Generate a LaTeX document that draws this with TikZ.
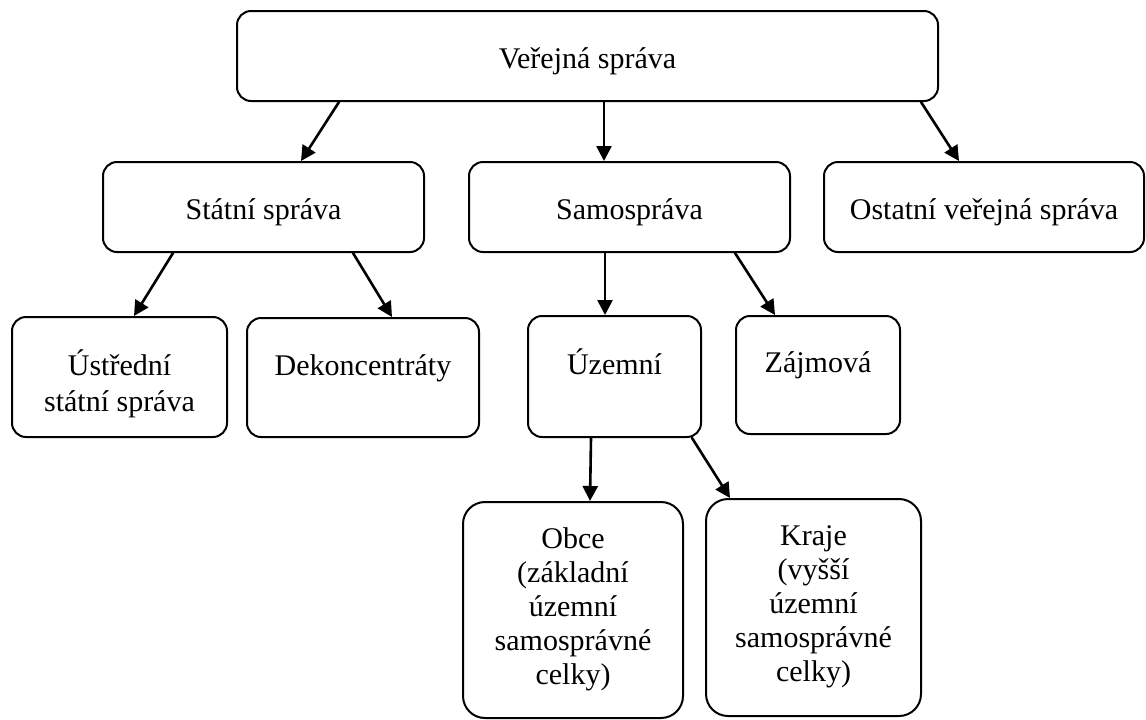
\documentclass[tikz,border=0pt]{standalone}
\usepackage{fontspec}
\setmainfont{Liberation Serif}
\usetikzlibrary{arrows.meta}

\begin{document}
\begin{tikzpicture}[x=0.5pt,y=-0.5pt,->,>={Triangle[length=7.5pt,width=7.5pt]},line cap=round,
                    line width=1.3pt,
                    every node/.style={font=\fontsize{15pt}{17.5pt}\selectfont},
                    box/.style={draw,line width=1pt,rounded corners=7pt,align=center,inner sep=0pt,
                                text height=12pt,text depth=0pt},
                    lowbox/.style={box,text depth=14.5pt},
                    tallbox/.style={box,rounded corners=11pt,font=\fontsize{15pt}{17pt}\selectfont,
                                    text height=74pt},
                ]
  \useasboundingbox (0,0) rectangle (1146,719);

  \node[box,minimum width=350.5pt,minimum height=45pt]      (vs)       at (587.5,56)  {Veřejná správa};
  \node[box,minimum width=160.5pt,minimum height=45pt]      (statni)   at (263.5,207) {Státní správa};
  \node[box,minimum width=160.5pt,minimum height=45pt]      (samo)     at (629.5,207) {Samospráva};
  \node[box,minimum width=160pt,minimum height=45pt]        (ostatni)  at (984,207)   {Ostatní veřejná správa};
  \node[box,text height=34pt,minimum width=107.5pt,minimum height=60pt] (ustredni) at (119.5,377) {Ústřední\\[0.5pt]státní správa};
  \node[lowbox,minimum width=116pt,minimum height=59.5pt]   (dekon)    at (363,377.5) {Dekoncentráty};
  \node[lowbox,minimum width=86.5pt,minimum height=60.5pt]  (uzemni)   at (614.5,376.5) {Územní};
  \node[lowbox,minimum width=82pt,minimum height=59pt]      (zajmova)  at (818,375)   {Zájmová};
  \node[tallbox,minimum width=110pt,minimum height=108pt]   (obce)     at (573,610)   {Obce\\(základní\\územní\\samosprávné\\celky)};
  \node[tallbox,minimum width=107.5pt,minimum height=108.5pt] (kraje)  at (813.5,607.5) {Kraje\\(vyšší\\územní\\samosprávné\\celky)};

  \path ([xshift=-124.25pt]vs.south)    edge ([xshift=18.75pt]statni.north)
        ([xshift=8.25pt]vs.south)       edge ([xshift=-12.75pt]samo.north)
        ([xshift=166.75pt]vs.south)     edge ([xshift=-12.5pt]ostatni.north)
        ([xshift=-45.25pt]statni.south) edge ([xshift=7.25pt]ustredni.north)
        ([xshift=44.75pt]statni.south)  edge ([xshift=14.5pt]dekon.north)
        ([xshift=-12.25pt]samo.south)   edge ([xshift=-4.75pt]uzemni.north)
        ([xshift=52.75pt]samo.south)    edge ([xshift=-21.5pt]zajmova.north)
        ([xshift=-11.75pt]uzemni.south) edge ([xshift=8.5pt]obce.north)
        ([xshift=38.75pt]uzemni.south)  edge ([xshift=-41.75pt]kraje.north)
        ;
\end{tikzpicture}
\end{document}
